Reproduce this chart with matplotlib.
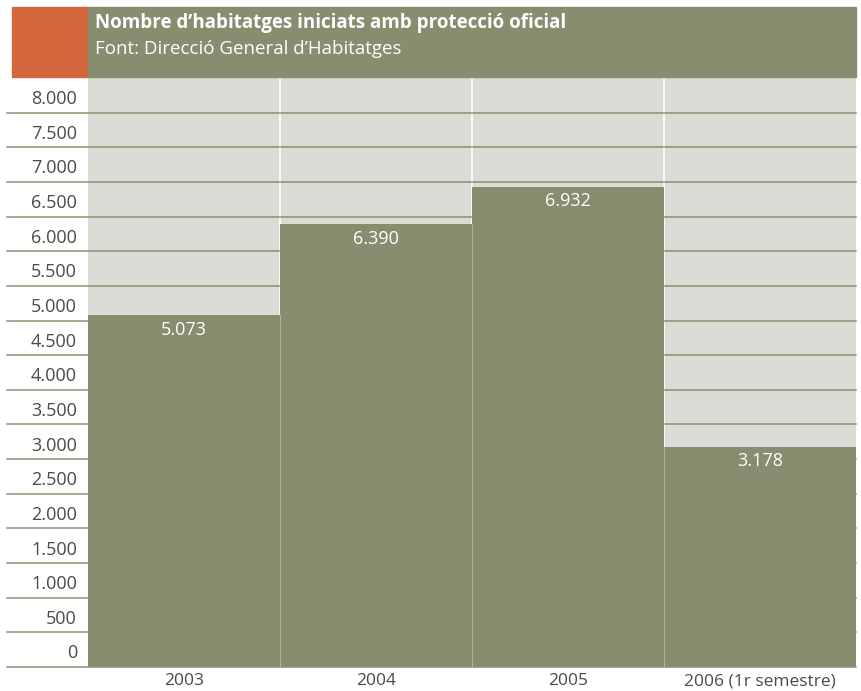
import matplotlib

matplotlib.use("Agg")
import matplotlib.pyplot as plt
from matplotlib.transforms import ScaledTranslation, blended_transform_factory
from matplotlib.patches import Rectangle

CATEGORIES = ["2003", "2004", "2005", "2006 (1r semestre)"]
VALUES = [5073, 6390, 6932, 3178]
VALUE_LABELS = ["5.073", "6.390", "6.932", "3.178"]
Y_TICKS = list(range(0, 8001, 500))
Y_TICK_LABELS = ["0", "500", "1.000", "1.500", "2.000", "2.500", "3.000", "3.500",
                 "4.000", "4.500", "5.000", "5.500", "6.000", "6.500", "7.000",
                 "7.500", "8.000"]
TITLE = "Nombre d\u2019habitatges iniciats amb protecció oficial"
SUBTITLE = "Font: Direcció General d\u2019Habitatges"

BAR_COLOR = "#888D70"
BG_COLOR = "#D9DDD6"
GRID_COLOR = "#8C9270"
ORANGE = "#D4663C"
TEXT_COLOR = "#4A4A4A"
FONT_SIZE = 13

plt.rcParams["font.family"] = ["Open Sans", "DejaVu Sans"]

fig = plt.figure(figsize=(8.61, 6.91), dpi=100)
ax = fig.add_axes([88 / 861, 1 - 667 / 691, 768 / 861, 589 / 691])
ax.set_facecolor(BG_COLOR)
ax.set_xlim(-0.5, len(CATEGORIES) - 0.5)
ax.set_ylim(0, 8500)

# horizontal rules, running under the tick labels too
for v in Y_TICKS:
    ax.plot([-0.105, 1.0], [v, v], transform=blended_transform_factory(ax.transAxes, ax.transData),
            color=GRID_COLOR, linewidth=1.1, clip_on=False, zorder=1)

# white column separators in the background
for i in range(1, len(CATEGORIES)):
    ax.axvline(i - 0.5, color="white", linewidth=1.2, zorder=0.5)

ax.bar(range(len(CATEGORIES)), VALUES, width=1.0, color=BAR_COLOR, edgecolor="none", zorder=2)
for i in range(1, len(CATEGORIES)):
    ax.plot([i - 0.5, i - 0.5], [0, min(VALUES[i - 1], VALUES[i])], color="#B9BCA8",
            linewidth=0.6, zorder=2.5)

for i, (v, lab) in enumerate(zip(VALUES, VALUE_LABELS)):
    ax.annotate(lab, (i, v), xytext=(0, -10.5), textcoords="offset points",
                ha="center", va="center", color="white", fontsize=FONT_SIZE, zorder=3)

ax.set_yticks(Y_TICKS)
ax.set_yticklabels(Y_TICK_LABELS)
ax.tick_params(axis="y", length=0, pad=8, labelsize=FONT_SIZE, labelcolor=TEXT_COLOR)
offset = ScaledTranslation(0, 0.155, fig.dpi_scale_trans)
for label in ax.get_yticklabels():
    label.set_transform(label.get_transform() + offset)

# category labels, baseline just above the bottom edge
ax.set_xticks([])
xlab_trans = blended_transform_factory(ax.transData, ax.transAxes)
for i, cat in enumerate(CATEGORIES):
    ax.annotate(cat, (i, 0), xycoords=xlab_trans, xytext=(0, -13.2), textcoords="offset points",
                ha="center", va="baseline", color=TEXT_COLOR, fontsize=12.5, annotation_clip=False)

for spine in ax.spines.values():
    spine.set_visible(False)

# header band
fig.patches.append(Rectangle((12 / 861, 1 - 77 / 691), 76 / 861, 70 / 691,
                             transform=fig.transFigure, color=ORANGE, zorder=0))
fig.patches.append(Rectangle((88 / 861, 1 - 77 / 691), 768 / 861, 70 / 691,
                             transform=fig.transFigure, color=BAR_COLOR, zorder=0))
fig.text(95 / 861, 1 - 23 / 691, TITLE, color="white", fontsize=13.5, fontweight="bold",
         ha="left", va="center")
fig.text(95 / 861, 1 - 49 / 691, SUBTITLE, color="white", fontsize=13.5,
         ha="left", va="center")

fig.savefig("out.png", dpi=100, facecolor="white")
